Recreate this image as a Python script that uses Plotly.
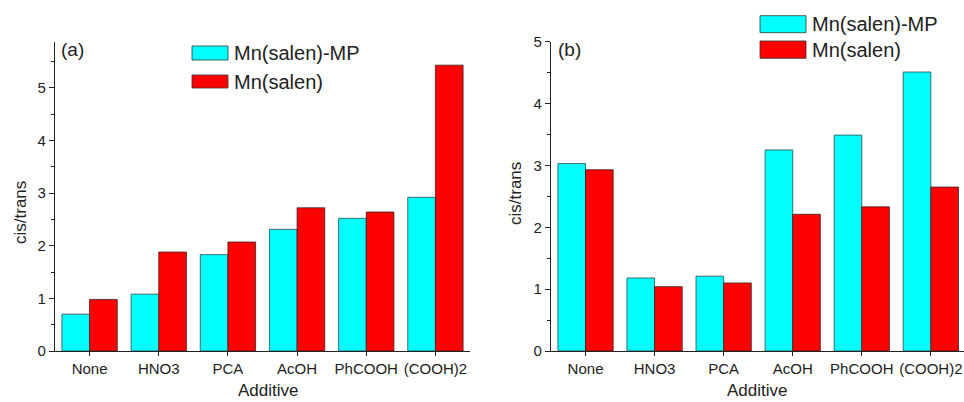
import plotly.graph_objects as go

categories = ["None", "HNO3", "PCA", "AcOH", "PhCOOH", "(COOH)2"]
a_mp = [0.70, 1.08, 1.83, 2.31, 2.52, 2.92]
a_salen = [0.98, 1.88, 2.07, 2.72, 2.64, 5.43]
b_mp = [3.03, 1.18, 1.21, 3.25, 3.49, 4.51]
b_salen = [2.93, 1.04, 1.10, 2.21, 2.33, 2.65]
series_names = ["Mn(salen)-MP", "Mn(salen)"]

W, H = 964, 402
CYAN = "#00FFFF"
RED = "#FF0000"
FONT = "Liberation Sans, Arial, sans-serif"

def px(x):
    return x / W

def py(y):
    return 1 - y / H

fig = go.Figure()
for xa, ya, mp, sa in [("x", "y", a_mp, a_salen), ("x2", "y2", b_mp, b_salen)]:
    fig.add_trace(go.Bar(x=categories, y=mp, name=series_names[0], xaxis=xa, yaxis=ya,
                         marker=dict(color=CYAN, line=dict(color="#2a4a4a", width=0.8)),
                         showlegend=False))
    fig.add_trace(go.Bar(x=categories, y=sa, name=series_names[1], xaxis=xa, yaxis=ya,
                         marker=dict(color=RED, line=dict(color="#3a2020", width=0.8)),
                         showlegend=False))

axis_common = dict(showline=True, linecolor="#222", linewidth=1.2, showgrid=False,
                   zeroline=False, ticks="outside", ticklen=5, tickcolor="#222",
                   automargin=False,
                   tickfont=dict(family=FONT, size=15, color="#222"))

fig.update_layout(
    width=W, height=H, margin=dict(l=0, r=0, t=0, b=0, autoexpand=False),
    paper_bgcolor="white", plot_bgcolor="white",
    barmode="group", bargap=0.2, bargroupgap=0,
    font=dict(family=FONT, color="#222"),
    xaxis=dict(domain=[px(55), px(470)], range=[-0.5, 5.5], anchor="y", type="category",
               **{**axis_common, "ticklen": 4}),
    yaxis=dict(domain=[py(351), py(42)], range=[0, 5.87], anchor="x", tickvals=[0, 1, 2, 3, 4, 5],
               minor=dict(ticks="outside", ticklen=3, dtick=0.5, tickcolor="#222"),
               **axis_common),
    xaxis2=dict(domain=[px(551), 1.0], range=[-0.5, 5.48], anchor="y2", type="category",
                ticklabeloverflow="allow",
                **{**axis_common, "ticklen": 4}),
    yaxis2=dict(domain=[py(351), py(41.7)], range=[0, 5], anchor="x2", tickvals=[0, 1, 2, 3, 4, 5],
                minor=dict(ticks="outside", ticklen=3, dtick=0.5, tickcolor="#222"),
                **axis_common),
)

shapes = []
annotations = []

def legend(x0, x1, rows, text_x):
    for (y0, y1), color, name in rows:
        shapes.append(dict(type="rect", xref="paper", yref="paper",
                           x0=px(x0), x1=px(x1), y0=py(y1), y1=py(y0),
                           fillcolor=color, line=dict(color="#333", width=0.8)))
        annotations.append(dict(xref="paper", yref="paper", x=px(text_x), y=py((y0 + y1) / 2),
                                text=name, showarrow=False, xanchor="left", yanchor="middle",
                                font=dict(family=FONT, size=20, color="#222")))

legend(192, 228, [((46, 60), CYAN, series_names[0]), ((75, 88), RED, series_names[1])], 232)
legend(760, 806, [((15.7, 32.7), CYAN, series_names[0]), ((41, 58.3), RED, series_names[1])], 810)

def text(x, y, s, size, angle=0, xanchor="center"):
    annotations.append(dict(xref="paper", yref="paper", x=px(x), y=py(y), text=s,
                            showarrow=False, xanchor=xanchor, yanchor="middle", textangle=angle,
                            font=dict(family=FONT, size=size, color="#222")))

text(59, 50, "(a)", 19, xanchor="left")
text(556, 50, "(b)", 19, xanchor="left")
text(268, 390, "Additive", 17)
text(757, 390, "Additive", 17)
text(20, 213, "cis/trans", 17, angle=-90)
text(515, 194, "cis/trans", 17, angle=-90)

fig.update_layout(shapes=shapes, annotations=annotations)
fig.write_html("out.html", config={"displayModeBar": False},
               post_script="document.body.style.margin='0';document.body.style.overflow='hidden';")
